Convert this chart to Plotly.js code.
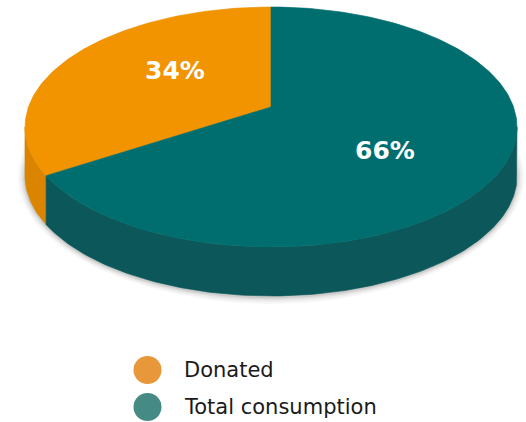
<!DOCTYPE html>
<html>
<head>
<meta charset="utf-8">
<script src="https://cdn.plot.ly/plotly-3.0.1.min.js"></script>
<style>html,body{margin:0;padding:0;background:#fff;}#chart{width:526px;height:422px;}</style>
</head>
<body>
<div id="chart"></div>
<script>
// ---- data ----
const categories = ['Donated', 'Total consumption'];
const values = [34, 66];
const valueLabels = ['34%', '66%'];

// ---- style ----
const topColors = ['#F29300', '#006E6F'];
const sideColors = ['#DB8400', '#0B5759'];
const legendColors = ['#E8973B', '#468A86'];
const labelR = [0.445, 0.53];

// perspective projection of a tilted disk
const CX = 271, CY0 = 107, K = 1 / 6;
const B = 100 * (1 + K);
const A = 246 * Math.sqrt(1 - K * K);
const H = 49; // thickness in px

function proj(thetaDeg, r, dy) {
  const t = thetaDeg * Math.PI / 180;
  const u = -r * Math.sin(t), v = r * Math.cos(t);
  const d = 1 + K * v;
  return [CX + A * u / d, CY0 - B * v / d + (dy || 0)];
}
function arc(a, b, r, dy) {
  const pts = [];
  const n = Math.max(2, Math.ceil(Math.abs(b - a) / 1));
  for (let i = 0; i <= n; i++) pts.push(proj(a + (b - a) * i / n, r, dy));
  return pts;
}

const total = values.reduce((s, v) => s + v, 0);
const bounds = [];
let acc = 0;
values.forEach(v => { const a = acc; acc += v / total * 360; bounds.push([a, acc]); });

// front arc limits (leftmost / rightmost points of projected ellipse)
const frontA = Math.acos(-K) * 180 / Math.PI;
const frontB = 360 - frontA;

const traces = [];

// soft shadow
[[7, 0.03], [5, 0.045], [3, 0.06], [1.5, 0.08]].forEach(([g, op]) => {
  const pts = arc(frontA - 10, frontB + 10, 1, H).map(([x, y]) => {
    const dx = x - CX, dyy = y - (CY0 + 20 + H);
    const len = Math.hypot(dx, dyy) || 1;
    return [x + dx / len * g, y + dyy / len * g + 1];
  });
  const topPts = arc(frontB + 10, frontA - 10 + 360, 1, 0);
  const all = pts.concat(topPts);
  traces.push({
    x: all.map(p => p[0]), y: all.map(p => p[1]), type: 'scatter', mode: 'lines',
    fill: 'toself', fillcolor: 'rgba(0,0,0,' + op + ')', line: { width: 0 },
    hoverinfo: 'skip', showlegend: false
  });
});

// sides
bounds.forEach(([a, b], i) => {
  const s = Math.max(a, frontA), e = Math.min(b, frontB);
  if (e <= s) return;
  const topArc = arc(s, e, 1, 0);
  const botArc = arc(e, s, 1, H);
  const all = topArc.concat(botArc);
  all.push(all[0]);
  traces.push({
    x: all.map(p => p[0]), y: all.map(p => p[1]), type: 'scatter', mode: 'lines',
    fill: 'toself', fillcolor: sideColors[i], line: { width: 0.6, color: sideColors[i] },
    hoverinfo: 'skip', showlegend: false
  });
});

// top faces
bounds.forEach(([a, b], i) => {
  const all = [proj(0, 0, 0)].concat(arc(a, b, 1, 0));
  all.push(all[0]);
  traces.push({
    x: all.map(p => p[0]), y: all.map(p => p[1]), type: 'scatter', mode: 'lines',
    fill: 'toself', fillcolor: topColors[i], line: { width: 0.6, color: topColors[i] },
    name: categories[i], hoverinfo: 'name', showlegend: false
  });
});

// legend markers
const legX = 147.5, legY0 = 370, legStep = 37;
traces.push({
  x: categories.map(() => legX), y: categories.map((c, i) => legY0 + i * legStep),
  type: 'scatter', mode: 'markers',
  marker: { size: 28, color: legendColors, line: { width: 0 } },
  hoverinfo: 'skip', showlegend: false
});

const annotations = [];
bounds.forEach(([a, b], i) => {
  const t = (a + b) / 2 * Math.PI / 180;
  const u = -Math.sin(t) * labelR[i], v = Math.cos(t) * labelR[i];
  annotations.push({
    x: CX + 246 * u, y: CY0 - 170 * v, xref: 'x', yref: 'y', text: '<b>' + valueLabels[i] + '</b>',
    showarrow: false, font: { family: 'DejaVu Sans', size: 25, color: '#ffffff' },
    xanchor: 'center', yanchor: 'middle'
  });
});
categories.forEach((c, i) => {
  annotations.push({
    x: 182, y: legY0 + i * legStep, xref: 'x', yref: 'y', text: c,
    showarrow: false, font: { family: 'DejaVu Sans', size: 21, color: '#1a1a1a' },
    xanchor: 'left', yanchor: 'middle'
  });
});

const layout = {
  width: 526, height: 422, autosize: false,
  margin: { l: 0, r: 0, t: 0, b: 0, pad: 0 },
  paper_bgcolor: '#ffffff', plot_bgcolor: '#ffffff',
  xaxis: { range: [0, 526], visible: false, fixedrange: true },
  yaxis: { range: [422, 0], visible: false, fixedrange: true },
  showlegend: false, annotations: annotations
};
Plotly.newPlot('chart', traces, layout, { displayModeBar: false, staticPlot: true });
</script>
</body>
</html>
